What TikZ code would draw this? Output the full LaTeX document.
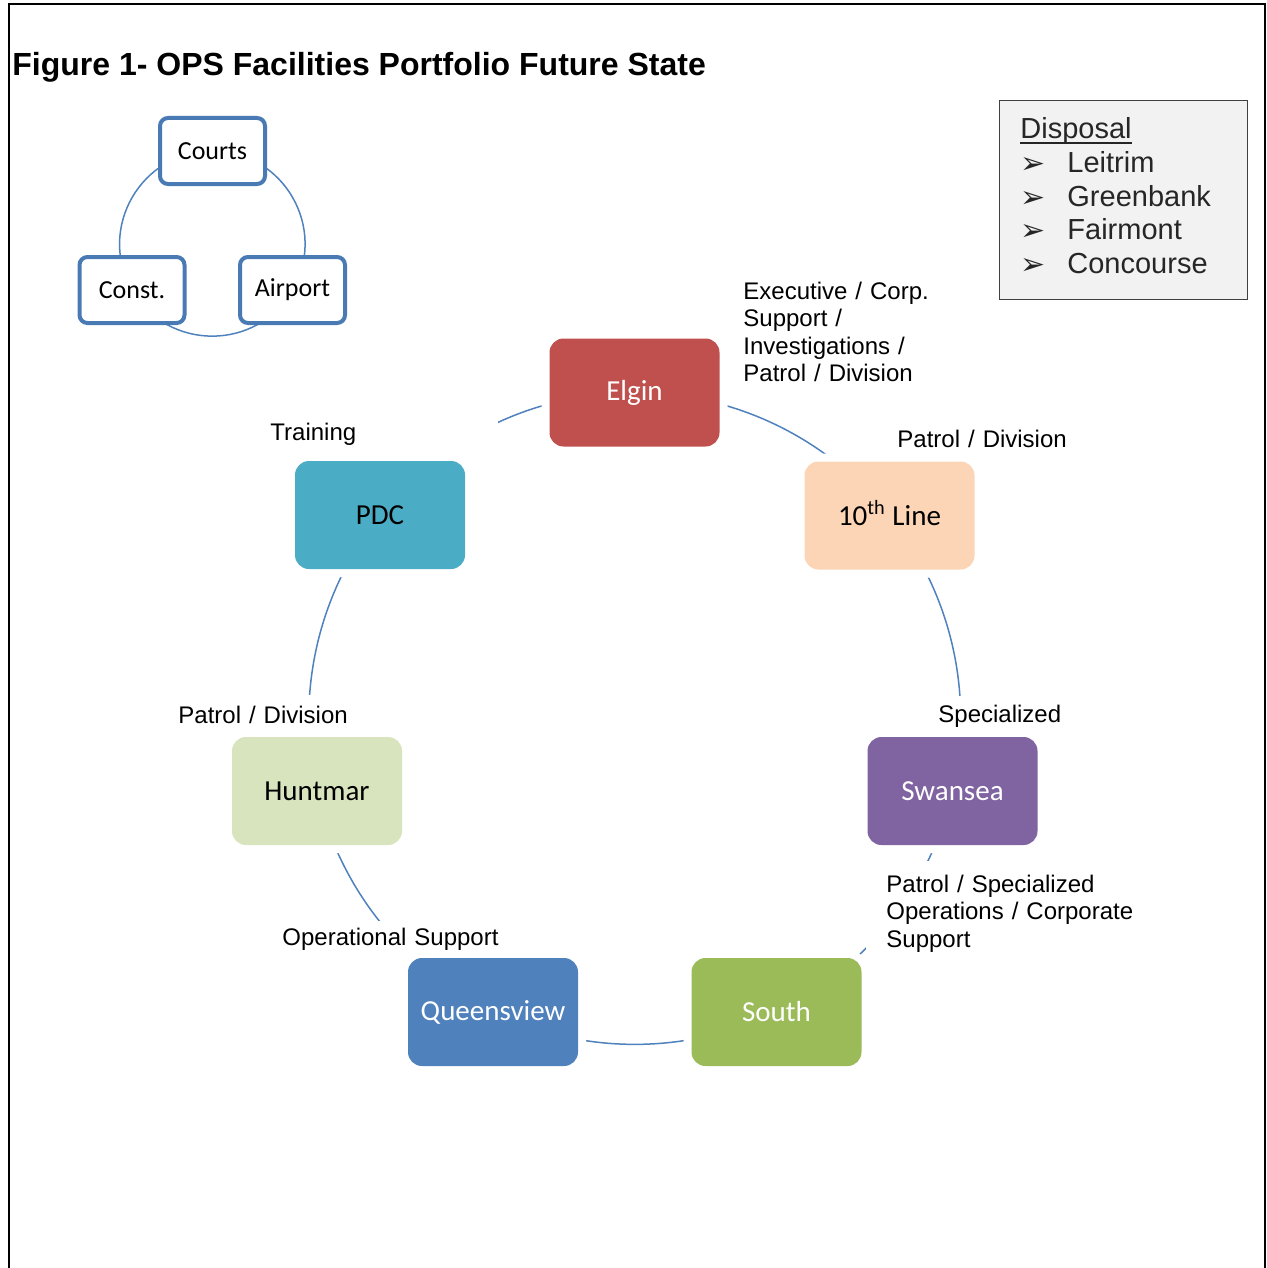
\documentclass[tikz,border=0pt]{standalone}
\usepackage{fontspec}
\setmainfont{Liberation Sans}
\newfontfamily\calfont{Carlito}
\newfontfamily\symfont{DejaVu Sans}
\usetikzlibrary{backgrounds}
\definecolor{ringblue}{RGB}{79,129,189}
\definecolor{smallblue}{RGB}{74,122,180}
\definecolor{elgincolor}{RGB}{192,80,77}
\definecolor{tenthcolor}{RGB}{251,213,181}
\definecolor{swanseacolor}{RGB}{128,100,162}
\definecolor{southcolor}{RGB}{155,187,89}
\definecolor{queenscolor}{RGB}{79,129,189}
\definecolor{huntmarcolor}{RGB}{215,228,189}
\definecolor{pdccolor}{RGB}{75,172,198}
\definecolor{disposalcolor}{RGB}{242,242,242}
\newcommand\headline[1]{\setbox0\hbox{#1}\rlap{\vrule height -1.6pt depth 2.6pt width \wd0}\box0}
\newcommand\listarrow{\makebox[23.5pt][l]{\symfont\fontsize{15}{17}\selectfont\raisebox{-0.5pt}{➢}}}

\begin{document}
\begin{tikzpicture}[
    x=0.5pt, y=-0.5pt,
    site/.style={rectangle, rounded corners=7pt, minimum width=85pt, minimum height=54pt, font=\calfont\fontsize{14.5}{17}\selectfont, preaction={draw=white, line width=8pt}},
    court/.style={rectangle, rounded corners=4pt, draw=smallblue, line width=2pt, fill=white, minimum width=52.5pt, minimum height=33pt, font=\calfont\fontsize{13}{15}\selectfont},
    role/.style={anchor=west, inner sep=0pt, fill=white, align=left, font=\fontsize{12}{13.75}\selectfont},
    ring/.style={draw=ringblue, line width=0.75pt},
    bigbend/.style={bend left=25.7, looseness=0.9},
    smallbend/.style={bend left=60, looseness=1.135}
]
\useasboundingbox (0,0) rectangle (1267,1268);
\draw[line width=1pt] (8.5,1268) -- (8.5,4.5) -- (1265,4.5) -- (1265,1268);

\node[anchor=west, inner sep=0pt, font=\bfseries\fontsize{16}{19}\selectfont] (title) at (12,67) {Figure 1- OPS Facilities Portfolio Future State};

\node[court] (courts) at (212.5,151) {Courts};
\node[court] (const) at (132,290) {Const.};
\node[court] (airport) at (292.5,290) {Airport};

\node[rectangle, draw=black!75, line width=0.5pt, fill=disposalcolor, anchor=north west, minimum width=124pt, minimum height=99.5pt] (disposal) at (999,100) {};
\node[anchor=north west, inner sep=0pt, align=left, text=black!85, font=\fontsize{14.5}{16.9}\selectfont] (disposallist) at (1020,117) {\headline{Disposal}\\
\listarrow Leitrim\\
\listarrow Greenbank\\
\listarrow Fairmont\\
\listarrow Concourse};

\node[site, fill=elgincolor, text=white] (elgin) at (634.5,392.5) {Elgin};
\node[site, fill=tenthcolor] (tenth) at (889.5,515.5) {10\smash{\textsuperscript{th}} Line};
\node[site, fill=swanseacolor, text=white] (swansea) at (952.5,791) {Swansea};
\node[site, fill=southcolor, text=white] (south) at (776.5,1012) {South};
\node[site, fill=queenscolor, text=white] (queens) at (493,1012) {Queensview};
\node[site, fill=huntmarcolor] (huntmar) at (317,791) {Huntmar};
\node[site, fill=pdccolor] (pdc) at (380,515) {PDC};

\node[role, text width=95pt] (elginrole) at (743,332) {Executive / Corp.\\Support /\\Investigations /\\Patrol / Division};
\node[role, text width=86pt] (tenthrole) at (897,439) {Patrol / Division};
\node[role, text width=68pt, minimum height=20.5pt] (swanrole) at (938,716) {Specialized};
\node[role, inner xsep=10pt, text width=125pt, minimum height=52.5pt] (southrole) at (866,913.5) {Patrol / Specialized\\Operations / Corporate\\Support};
\node[role, text width=114pt, minimum height=18pt] (queensrole) at (282,939) {Operational Support};
\node[role, text width=89pt, minimum height=20.5pt] (huntrole) at (178,715) {Patrol / Division};
\node[role, text width=114pt, minimum height=21.5pt] (pdcrole) at (270,434) {Training};

\begin{scope}[on background layer]
\draw[ring] (courts.center) to[smallbend] (airport.center);
\draw[ring] (airport.center) to[smallbend] (const.center);
\draw[ring] (const.center) to[smallbend] (courts.center);
\draw[ring] (elgin.center) to[bigbend] (tenth.center);
\draw[ring] (tenth.center) to[bigbend] (swansea.center);
\draw[ring] (swansea.center) to[bigbend] (south.center);
\draw[ring] (south.center) to[bigbend] (queens.center);
\draw[ring] (queens.center) to[bigbend] (huntmar.center);
\draw[ring] (huntmar.center) to[bigbend] (pdc.center);
\draw[ring] (pdc.center) to[bigbend] (elgin.center);
\end{scope}
\end{tikzpicture}
\end{document}
